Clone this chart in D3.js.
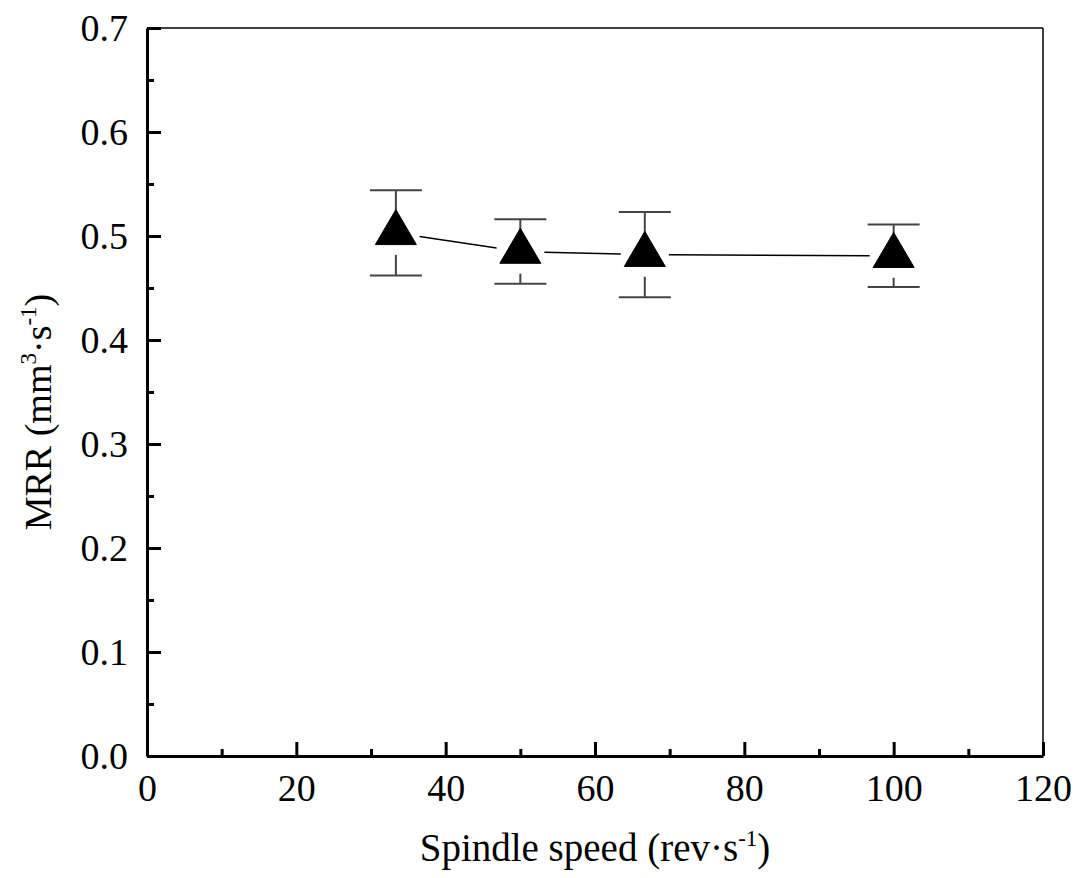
<!DOCTYPE html>
<html>
<head>
<meta charset="utf-8">
<script src="https://cdn.jsdelivr.net/npm/d3@7"></script>
<style>
  body { margin: 0; background: #fff; }
  text { font-family: "Liberation Serif", "Times New Roman", serif; fill: #000; }
</style>
</head>
<body>
<div id="chart"></div>
<script>
// spindle speed vs MRR, with error bars
var speeds = [33.33, 50, 66.67, 100];
var mrr = [0.503, 0.485, 0.482, 0.481];
var mrrErr = [0.041, 0.031, 0.041, 0.030];

var xTicks = [0, 20, 40, 60, 80, 100, 120];
var yTicks = [0.0, 0.1, 0.2, 0.3, 0.4, 0.5, 0.6, 0.7];

var WIDTH = 1081, HEIGHT = 878;
var plotL = 147, plotR = 1043, plotT = 28, plotB = 756;

var svg = d3.select("#chart").append("svg")
    .attr("width", WIDTH)
    .attr("height", HEIGHT);

var x = d3.scaleLinear().domain([0, 120]).range([plotL, plotR]);
var y = d3.scaleLinear().domain([0, 0.7]).range([plotB, plotT]);

// frame: thin top and right
svg.append("line").attr("x1", plotL).attr("x2", plotR).attr("y1", plotT).attr("y2", plotT)
    .attr("stroke", "#000").attr("stroke-width", 1.5);
svg.append("line").attr("x1", plotR).attr("x2", plotR).attr("y1", plotT).attr("y2", plotB)
    .attr("stroke", "#000").attr("stroke-width", 1.5);

// minor ticks
svg.append("g").attr("transform", "translate(0," + plotB + ")")
    .call(d3.axisBottom(x).tickValues(d3.range(10, 120, 20)).tickSize(-7).tickSizeOuter(0).tickFormat(""))
    .call(function(g) { g.select(".domain").remove(); g.selectAll("line").attr("stroke-width", 3); });
svg.append("g").attr("transform", "translate(" + plotL + ",0)")
    .call(d3.axisLeft(y).tickValues([0.05, 0.15, 0.25, 0.35, 0.45, 0.55, 0.65]).tickSize(-7).tickSizeOuter(0).tickFormat(""))
    .call(function(g) { g.select(".domain").remove(); g.selectAll("line").attr("stroke-width", 3); });

// major axes
var xAxis = svg.append("g").attr("transform", "translate(0," + plotB + ")")
    .call(d3.axisBottom(x).tickValues(xTicks).tickSize(-14).tickSizeOuter(0).tickPadding(18).tickFormat(d3.format("d")));
var yAxis = svg.append("g").attr("transform", "translate(" + plotL + ",0)")
    .call(d3.axisLeft(y).tickValues(yTicks).tickSize(-14).tickSizeOuter(0).tickPadding(19).tickFormat(d3.format(".1f")));

[xAxis, yAxis].forEach(function(g) {
  g.select(".domain").attr("stroke-width", 3);
  g.selectAll(".tick line").attr("stroke-width", 3);
  g.selectAll("text").style("font-size", "38px").attr("font-family", null);
});

// connecting line, broken around each marker
var gap = 24;
for (var i = 0; i < speeds.length - 1; i++) {
  var x1 = x(speeds[i]), y1 = y(mrr[i]), x2 = x(speeds[i + 1]), y2 = y(mrr[i + 1]);
  var len = Math.hypot(x2 - x1, y2 - y1);
  var ux = (x2 - x1) / len, uy = (y2 - y1) / len;
  svg.append("line")
      .attr("x1", x1 + ux * gap).attr("y1", y1 + uy * gap)
      .attr("x2", x2 - ux * gap).attr("y2", y2 - uy * gap)
      .attr("stroke", "#000").attr("stroke-width", 1.5);
}

// error bars
var bars = svg.append("g").attr("stroke", "#444").attr("stroke-width", 2);
speeds.forEach(function(s, i) {
  var cx = x(s), cy = y(mrr[i]);
  var eTop = y(mrr[i] + mrrErr[i]), eBot = y(mrr[i] - mrrErr[i]);
  bars.append("line").attr("x1", cx).attr("x2", cx).attr("y1", eTop).attr("y2", cy - 22);
  bars.append("line").attr("x1", cx).attr("x2", cx).attr("y1", cy + 22).attr("y2", eBot);
  bars.append("line").attr("x1", cx - 26).attr("x2", cx + 26).attr("y1", eTop).attr("y2", eTop);
  bars.append("line").attr("x1", cx - 26).attr("x2", cx + 26).attr("y1", eBot).attr("y2", eBot);
});

// triangle markers, centred on their centroid
svg.selectAll("path.marker")
    .data(speeds)
    .enter()
    .append("path")
    .attr("class", "marker")
    .attr("d", "M0,-23.3L20.5,11.7L-20.5,11.7Z")
    .attr("transform", function(d, i) { return "translate(" + x(d) + "," + y(mrr[i]) + ")"; })
    .attr("fill", "#000")
    .attr("stroke", "#000")
    .attr("stroke-width", 1)
    .attr("stroke-linejoin", "round");

// axis titles
var xTitle = svg.append("text")
    .attr("x", (plotL + plotR) / 2)
    .attr("y", 861)
    .attr("text-anchor", "middle")
    .style("font-size", "39px");
xTitle.append("tspan").text("Spindle speed (rev\u00b7s");
xTitle.append("tspan").attr("dy", -15).style("font-size", "23px").text("-1");
xTitle.append("tspan").attr("dy", 15).text(")");

var yTitle = svg.append("text")
    .attr("transform", "translate(51,412) rotate(-90)")
    .attr("text-anchor", "middle")
    .style("font-size", "38px");
yTitle.append("tspan").text("MRR (mm");
yTitle.append("tspan").attr("dy", -15).style("font-size", "23px").text("3");
yTitle.append("tspan").attr("dy", 15).text("\u00b7s");
yTitle.append("tspan").attr("dy", -15).style("font-size", "23px").text("-1");
yTitle.append("tspan").attr("dy", 15).text(")");
</script>
</body>
</html>
